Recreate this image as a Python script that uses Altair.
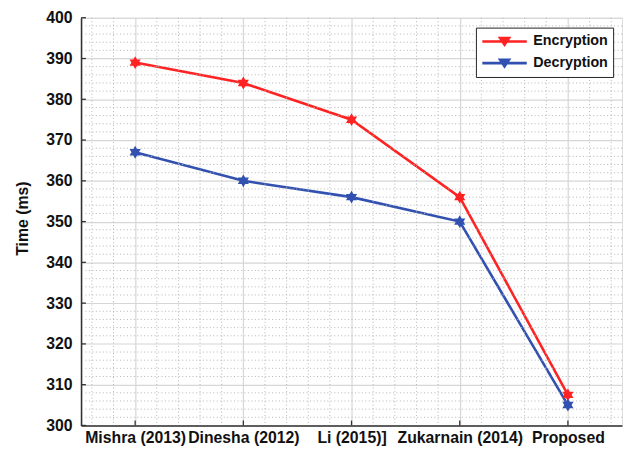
import altair as alt
import pandas as pd
import numpy as np

categories = ["Mishra (2013)", "Dinesha (2012)", "Li (2015)]", "Zukarnain (2014)", "Proposed"]
encryption = [389, 384, 375, 356, 307.5]
decryption = [367, 360, 356, 350, 305]
series_names = ["Encryption", "Decryption"]
series_colors = ["#ff2222", "#3150b0"]

rows = []
for i, c in enumerate(categories):
    rows.append({"idx": i + 1, "cat": c, "series": "Encryption", "time": encryption[i]})
    rows.append({"idx": i + 1, "cat": c, "series": "Decryption", "time": decryption[i]})
df = pd.DataFrame(rows)

# grid helper values (style only)
minor_x = [round(v, 2) for v in np.arange(0.6, 5.5, 0.2) if abs(v - round(v)) > 1e-6]
minor_y = [v for v in range(302, 400, 2) if v % 10 != 0]
major_y = list(range(300, 401, 10))
major_x = [1, 2, 3, 4, 5]

FONT = "Liberation Sans"
xscale = alt.Scale(domain=[0.5, 5.5], nice=False, zero=False)
yscale = alt.Scale(domain=[300, 400], nice=False, zero=False)

label_expr = "[" + ",".join("'" + c + "'" for c in categories) + "][datum.value - 1]"

xaxis = alt.Axis(values=major_x, labelExpr=label_expr, title=None, grid=True,
                 gridColor="#d6d6d6", gridWidth=1.2, tickSize=0, labelPadding=4,
                 labelFont=FONT, labelFontSize=16, labelFontWeight="bold", labelColor="#111",
                 domainColor="#333", domainWidth=1.6, labelOverlap=False)
yaxis = alt.Axis(values=major_y, title="Time (ms)", grid=True, gridColor="#d6d6d6", gridWidth=1.2,
                 tickSize=0, labelPadding=9, labelFont=FONT, labelFontSize=16,
                 labelFontWeight="bold", labelColor="#111", domainColor="#333", domainWidth=1.6,
                 titleFont=FONT, titleFontSize=16, titleFontWeight="bold", titleColor="#111",
                 titleX=-51, titleY=203, titleAngle=270)

def X(f):
    return alt.X(f, scale=xscale, axis=xaxis)

def Y(f):
    return alt.Y(f, scale=yscale, axis=yaxis)

color = alt.Color("series:N", scale=alt.Scale(domain=series_names, range=series_colors),
                  legend=alt.Legend(title=None, orient="none", legendX=400, legendY=10,
                                    symbolType="M-1,0L5,0M1.4,-0.45L2.6,-0.45L2,0.45Z",
                                    symbolSize=225, symbolStrokeWidth=2.6,
                                    labelFont=FONT, labelFontSize=14.5, labelFontWeight="bold",
                                    labelColor="#111", strokeColor="#222", fillColor="white",
                                    padding=5, rowPadding=4, labelOffset=35))

lines = alt.Chart(df).mark_line(strokeWidth=2.6).encode(
    x=X("idx:Q"), y=Y("time:Q"), color=color, detail="series:N",
)

minor_y_layer = alt.Chart(pd.DataFrame({"y": minor_y})).mark_rule(
    color="#b5b5b5", strokeDash=[1, 2.5], strokeWidth=1
).encode(y=Y("y:Q"))

minor_x_layer = alt.Chart(pd.DataFrame({"x": minor_x})).mark_rule(
    color="#b5b5b5", strokeDash=[1, 2.5], strokeWidth=1
).encode(x=X("x:Q"))

star = "M0,-1L0.866,0.5L-0.866,0.5Z M0,1L-0.866,-0.5L0.866,-0.5Z"
points = alt.Chart(df).mark_point(filled=True, opacity=1, shape=star, size=170).encode(
    x=X("idx:Q"), y=Y("time:Q"), color=color,
)

left_ticks = alt.Chart(pd.DataFrame({"y": major_y, "x0": 0.5, "x1": 0.545})).mark_rule(
    color="#333", strokeWidth=1.3
).encode(x=X("x0:Q"), x2="x1:Q", y=Y("y:Q"))

bottom_ticks = alt.Chart(pd.DataFrame({"x": major_x, "y0": 300, "y1": 301.2})).mark_rule(
    color="#333", strokeWidth=1.3
).encode(x=X("x:Q"), y=Y("y0:Q"), y2="y1:Q")

chart = alt.layer(lines, minor_y_layer, minor_x_layer, points, left_ticks, bottom_ticks).properties(
    width=548, height=413,
    autosize=alt.AutoSizeParams(type="none"),
    padding={"left": 74, "top": 7, "right": 1, "bottom": 22},
).configure_view(stroke=None).configure(background="white")

chart.save("out.html", embed_options={"renderer": "svg", "actions": False})
